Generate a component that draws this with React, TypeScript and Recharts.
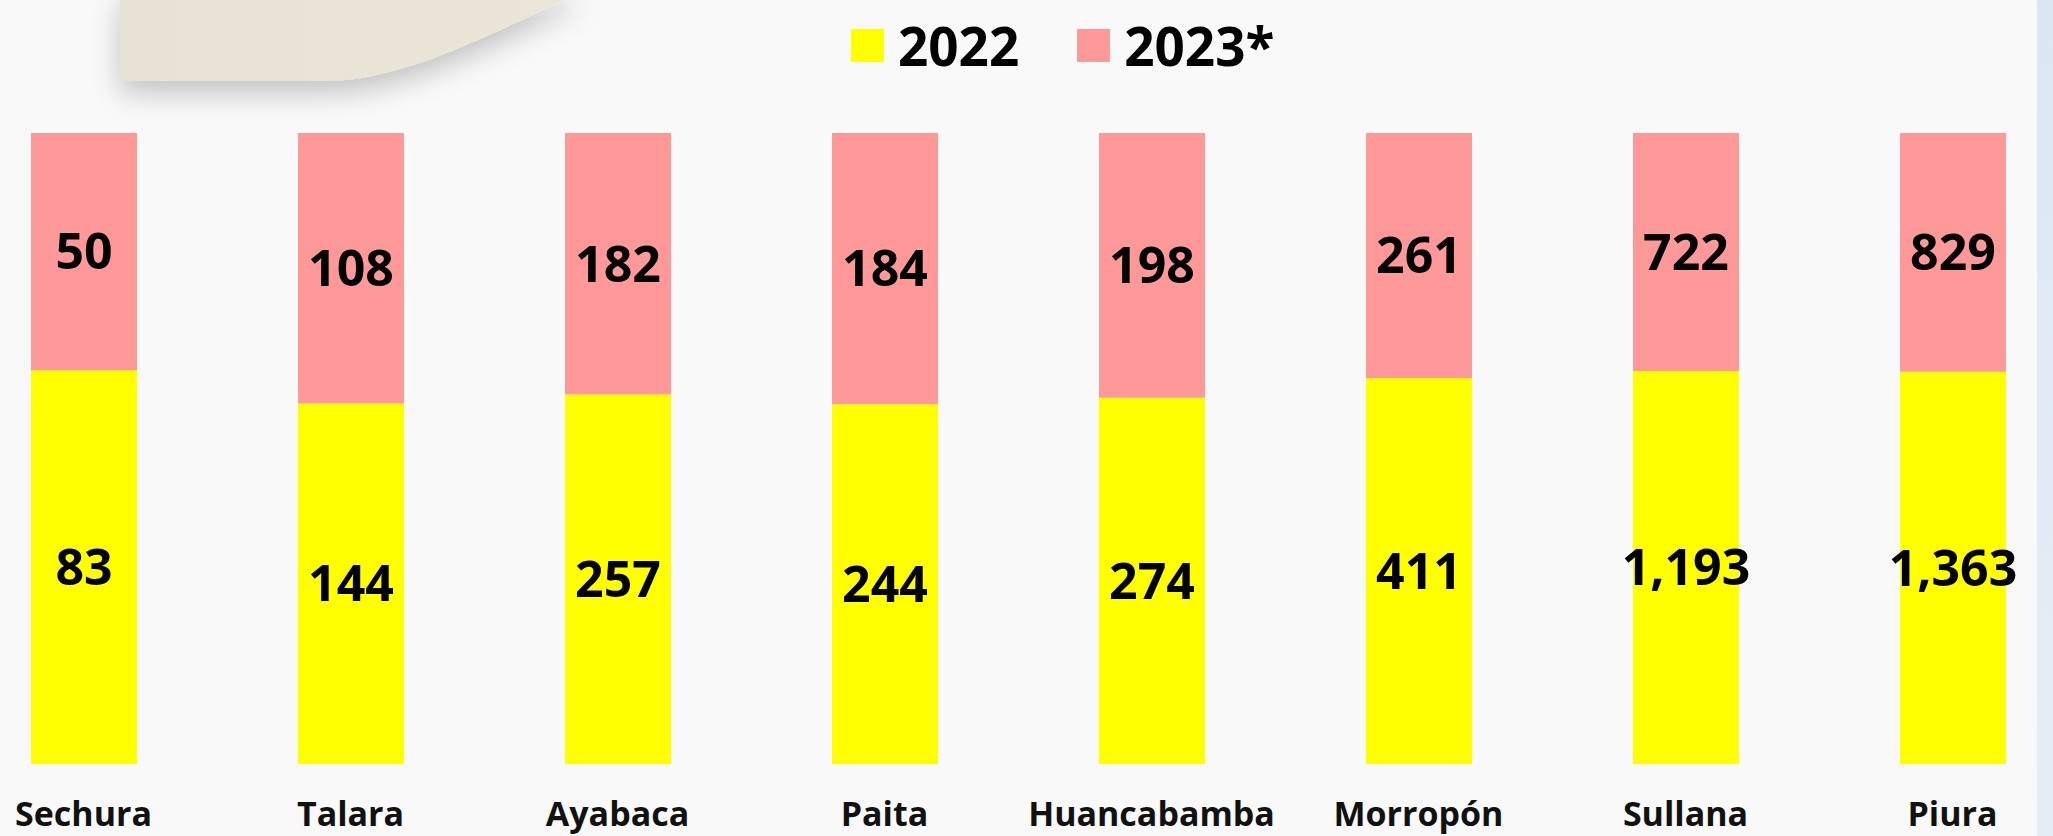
import React from 'react';
import { BarChart, Bar, XAxis, YAxis, Legend, LabelList } from 'recharts';

const categories = ['Sechura', 'Talara', 'Ayabaca', 'Paita', 'Huancabamba', 'Morropón', 'Sullana', 'Piura'];
const values2022 = [83, 144, 257, 244, 274, 411, 1193, 1363];
const values2023 = [50, 108, 182, 184, 198, 261, 722, 829];
const seriesNames = ['2022', '2023*'];

const YELLOW = '#ffff00';
const PINK = '#ff9999';
const FONT = '"Open Sans", "Liberation Sans", sans-serif';

const data = categories.map((c, i) => ({ name: c, y2022: values2022[i], y2023: values2023[i] }));

const fmt = (v: any) => Number(v).toLocaleString('en-US');

const LegendBox = () => (
  <div style={{ display: 'flex', alignItems: 'center', fontFamily: FONT, fontWeight: 700, fontSize: 53, lineHeight: '65px', color: '#000' }}>
    <span style={{ width: 33, height: 33, background: YELLOW, display: 'inline-block', marginRight: 14 }} />
    <span style={{ marginRight: 58 }}>{seriesNames[0]}</span>
    <span style={{ width: 33, height: 33, background: PINK, display: 'inline-block', marginRight: 14 }} />
    <span>{seriesNames[1]}</span>
  </div>
);

const Tick = ({ x, y, payload }: any) => (
  <text x={x} y={y + 54} textAnchor="middle" fontFamily={FONT} fontWeight={700} fontSize={34} fill="#111">
    {payload.value}
  </text>
);

const App: React.FC = () => {
  return (
    <div style={{ position: 'fixed', left: 0, top: 0, width: 2053, height: 836, overflow: 'hidden', background: '#f9f9f9' }}>
      {/* curled paper in the top left corner */}
      <svg width={700} height={150} style={{ position: 'absolute', left: 0, top: 0 }}>
        <defs>
          <filter id="sh" x="-30%" y="-30%" width="160%" height="200%">
            <feDropShadow dx="0" dy="12" stdDeviation="14" floodColor="#000" floodOpacity="0.22" />
          </filter>
          <linearGradient id="paper" x1="0" y1="0" x2="1" y2="0">
            <stop offset="0" stopColor="#e8e2d4" />
            <stop offset="1" stopColor="#ece6d8" />
          </linearGradient>
        </defs>
        <path d="M120 -10 L120 81 L330 81 C400 79, 470 45, 585 -10 Z" fill="url(#paper)" filter="url(#sh)" />
      </svg>
      {/* light blue strip at the right edge */}
      <div style={{ position: 'absolute', left: 2037, top: 0, width: 16, height: 836, background: 'linear-gradient(#dce7f3, #e6edf6)' }} />
      <div style={{ position: 'absolute', left: -50, top: 0 }}>
        <BarChart
          width={2136}
          height={836}
          data={data}
          stackOffset="expand"
          barSize={106}
          margin={{ top: 68, right: 0, bottom: 0, left: 0 }}
        >
          <XAxis dataKey="name" axisLine={false} tickLine={false} height={72} tick={<Tick />} interval={0} />
          <YAxis hide domain={[0, 1]} />
          <Legend
            verticalAlign="top"
            content={<LegendBox />}
            wrapperStyle={{ top: 13, left: 901, width: 'auto', height: 65 }}
          />
          <Bar dataKey="y2022" stackId="a" fill={YELLOW} isAnimationActive={false}>
            <LabelList dataKey="y2022" position="center" formatter={fmt} fontFamily={FONT} fontWeight={700} fontSize={50} fill="#000" />
          </Bar>
          <Bar dataKey="y2023" stackId="a" fill={PINK} isAnimationActive={false}>
            <LabelList dataKey="y2023" position="center" formatter={fmt} fontFamily={FONT} fontWeight={700} fontSize={50} fill="#000" />
          </Bar>
        </BarChart>
      </div>
    </div>
  );
};

export default App;
